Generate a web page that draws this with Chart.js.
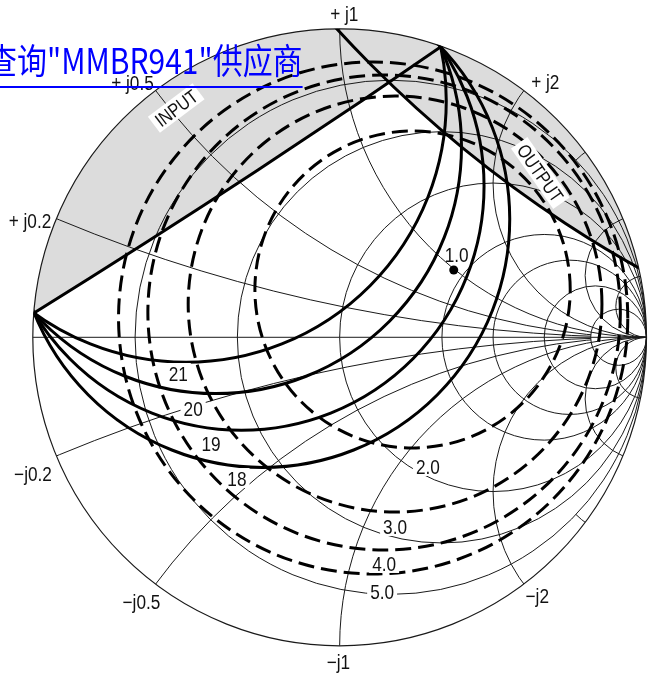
<!DOCTYPE html>
<html>
<head>
<meta charset="utf-8">
<script src="https://cdn.jsdelivr.net/npm/chart.js@4.4.1/dist/chart.umd.min.js"></script>
<style>
  html, body { margin: 0; padding: 0; background: #fff; }
  #wrap { position: relative; width: 651px; height: 679px; overflow: hidden; }
  #smith { position: absolute; left: 0; top: 0; }
  #supplier {
    position: absolute; left: -13px; top: 41px; display: block;
    font-family: "Noto Sans CJK SC", sans-serif; font-size: 35px; line-height: 35px;
    color: #0000ff; text-decoration: underline; text-decoration-thickness: 2px;
    text-underline-offset: 12px; white-space: nowrap; transform-origin: 0 0;
  }
</style>
</head>
<body>
<div id="wrap">
  <canvas id="smith" width="651" height="679"></canvas>
  <a id="supplier" href="#">查询"MMBR941"供应商</a>
</div>
<script>
// ---------- Smith chart grid ----------
const resistanceCircles = [0.2, 0.5, 1, 2, 3, 5, 10];
const reactanceArcs     = [0.2, 0.5, 1, 2, 3, 5, 10];
// resistance value at which each reactance arc stops (Infinity = runs to the right edge)
const reactanceArcLimit = [10, 10, Infinity, Infinity, 0.2, Infinity, Infinity];
const rimLabelText = ['+ j0.2', '+ j0.5', '+ j1', '+ j2', '\u2212j0.2', '\u2212j0.5', '\u2212j1', '\u2212j2'];

// ---------- constant gain circles (dB), reflection-coefficient plane ----------
const gainDb      = [21, 20, 19, 18];
const gainCenterU = [-0.5005, -0.4042, -0.3203, -0.2506];
const gainCenterV = [0.7669, 0.6188, 0.4898, 0.3831];
const gainRadius  = [0.8480, 0.8013, 0.7909, 0.8049];

// ---------- noise figure circles (dB) ----------
const nfDb      = [2.0, 3.0, 4.0, 5.0];
const nfCenterU = [0.2376, 0.1806, 0.1449, 0.1092];
const nfCenterV = [0.1549, 0.1079, 0.0804, 0.0626];
const nfRadius  = [0.5138, 0.6742, 0.7699, 0.8298];

// ---------- minimum noise figure (dB) at the optimum source reflection ----------
const nfMin = 1.0;
const gammaOptU = 0.3718;
const gammaOptV = 0.2182;

// ---------- stability circles ----------
const stabilityName    = ['INPUT', 'OUTPUT'];
const stabilityCenterU = [-17.850, 2.8998];
const stabilityCenterV = [27.443, 3.6810];
const stabilityRadius  = [32.138, 3.9562];

// ---------- label placement (reflection-coefficient plane) ----------
const layout = {
  rimLabelPos: [[-1.0091, 0.3770], [-0.6752, 0.8243], [0.0152, 1.0480], [0.6700, 0.8276],
                [-0.9994, -0.4431], [-0.6460, -0.8580], [-0.0042, -1.0525], [0.6441, -0.8386]],
  gainLabelPos: [[-0.5261, -0.1157], [-0.4775, -0.2292], [-0.4191, -0.3426], [-0.3348, -0.4561]],
  nfLabelPos: [[0.2875, -0.4172], [0.1805, -0.6117], [0.1449, -0.7316], [0.1384, -0.8224]],
  nfMinLabelPos: [0.3815, 0.2700],
  stabilityLabelPos: [[-0.5326, 0.7433], [0.6538, 0.5326]],
  stabilityLabelAngle: [-37, 55]
};

const LABEL_FONT = '"Liberation Sans", Arial, sans-serif';

function frameOf(chart) {
  const xs = chart.scales.x, ys = chart.scales.y;
  const cx = xs.getPixelForValue(0), cy = ys.getPixelForValue(0);
  return { cx, cy, kx: xs.getPixelForValue(1) - cx, ky: cy - ys.getPixelForValue(1) };
}

function drawLabel(ctx, text, x, y, size, opt) {
  opt = opt || {};
  const squeeze = opt.squeeze || 0.82;
  ctx.save();
  ctx.translate(x, y);
  if (opt.angle) ctx.rotate(opt.angle * Math.PI / 180);
  ctx.scale(squeeze, 1);
  ctx.font = size + 'px ' + LABEL_FONT;
  const w = ctx.measureText(text).width;
  if (opt.bg) {
    const padX = opt.padX || 3, h = opt.boxH || size * 0.95;
    ctx.fillStyle = '#fff';
    ctx.fillRect(-w / 2 - padX / squeeze, -h / 2, w + 2 * padX / squeeze, h);
  }
  ctx.fillStyle = '#111';
  ctx.textAlign = 'center';
  ctx.textBaseline = 'alphabetic';
  ctx.fillText(text, 0, size * 0.358);
  ctx.restore();
}

const smithPlugin = {
  id: 'smithChart',
  beforeDatasetsDraw(chart) {
    const ctx = chart.ctx;
    const f = frameOf(chart);
    const P = (u, v) => [f.cx + f.kx * u, f.cy - f.ky * v];
    const addCircle = (u, v, r) => {
      ctx.save();
      ctx.translate(f.cx, f.cy);
      ctx.scale(f.kx, -f.ky);
      ctx.moveTo(u + r, v);
      ctx.arc(u, v, r, 0, 2 * Math.PI);
      ctx.restore();
    };
    const clipUnit = () => { ctx.beginPath(); addCircle(0, 0, 1); ctx.clip(); };

    // unstable regions
    ctx.save();
    clipUnit();
    ctx.fillStyle = '#dcdcdc';
    for (let i = 0; i < stabilityName.length; i++) {
      ctx.beginPath();
      addCircle(stabilityCenterU[i], stabilityCenterV[i], stabilityRadius[i]);
      ctx.fill();
    }
    ctx.restore();

    // grid
    ctx.save();
    clipUnit();
    ctx.strokeStyle = '#1a1a1a';
    ctx.lineWidth = 1;
    ctx.beginPath();
    ctx.moveTo(...P(-1, 0));
    ctx.lineTo(...P(1, 0));
    ctx.stroke();
    resistanceCircles.forEach(r => {
      ctx.beginPath();
      addCircle(r / (r + 1), 0, 1 / (r + 1));
      ctx.stroke();
    });
    reactanceArcs.forEach((x, i) => {
      const lim = reactanceArcLimit[i];
      [x, -x].forEach(xx => {
        ctx.save();
        if (isFinite(lim)) {
          ctx.beginPath();
          addCircle(0, 0, 1);
          addCircle(lim / (lim + 1), 0, 1 / (lim + 1));
          ctx.clip('evenodd');
        }
        ctx.beginPath();
        addCircle(1, 1 / xx, 1 / Math.abs(xx));
        ctx.stroke();
        ctx.restore();
      });
    });
    ctx.restore();

    // outer rim
    ctx.save();
    ctx.strokeStyle = '#1a1a1a';
    ctx.lineWidth = 1.2;
    ctx.beginPath();
    addCircle(0, 0, 1);
    ctx.stroke();
    ctx.restore();

    // noise figure circles
    ctx.save();
    ctx.strokeStyle = '#000';
    ctx.lineWidth = 3;
    ctx.setLineDash([16, 7]);
    for (let i = 0; i < nfDb.length; i++) {
      ctx.beginPath();
      addCircle(nfCenterU[i], nfCenterV[i], nfRadius[i]);
      ctx.stroke();
    }
    ctx.restore();

    // gain circles and stability boundaries
    ctx.save();
    clipUnit();
    ctx.strokeStyle = '#000';
    ctx.lineWidth = 3;
    for (let i = 0; i < gainDb.length; i++) {
      ctx.beginPath();
      addCircle(gainCenterU[i], gainCenterV[i], gainRadius[i]);
      ctx.stroke();
    }
    for (let i = 0; i < stabilityName.length; i++) {
      ctx.beginPath();
      addCircle(stabilityCenterU[i], stabilityCenterV[i], stabilityRadius[i]);
      ctx.stroke();
    }
    ctx.restore();

    // labels
    rimLabelText.forEach((t, i) => {
      const [x, y] = P(...layout.rimLabelPos[i]);
      drawLabel(ctx, t, x, y, 20, { squeeze: 0.86 });
    });
    gainDb.forEach((g, i) => {
      const [x, y] = P(...layout.gainLabelPos[i]);
      drawLabel(ctx, String(g), x, y, 21, { bg: true });
    });
    nfDb.forEach((n, i) => {
      const [x, y] = P(...layout.nfLabelPos[i]);
      drawLabel(ctx, n.toFixed(1), x, y, 21, { bg: true });
    });
    {
      const [x, y] = P(...layout.nfMinLabelPos);
      drawLabel(ctx, nfMin.toFixed(1), x, y, 21);
    }
    stabilityName.forEach((s, i) => {
      const [x, y] = P(...layout.stabilityLabelPos[i]);
      drawLabel(ctx, s, x, y, 19, { bg: true, angle: layout.stabilityLabelAngle[i], padX: 4, boxH: 20, squeeze: 0.84 });
    });
  }
};

new Chart(document.getElementById('smith'), {
  type: 'scatter',
  data: {
    datasets: [{
      label: 'NFmin',
      data: [{ x: gammaOptU, y: gammaOptV }],
      pointRadius: 4.5,
      backgroundColor: '#000',
      borderColor: '#000',
      borderWidth: 0,
      clip: false
    }]
  },
  options: {
    responsive: false,
    animation: false,
    events: [],
    layout: { padding: { left: 32.8, right: 1.2, top: 28.8, bottom: 33.2 } },
    plugins: { legend: { display: false }, tooltip: { enabled: false } },
    scales: {
      x: { type: 'linear', min: -1, max: 1, display: false },
      y: { type: 'linear', min: -1, max: 1, display: false }
    }
  },
  plugins: [smithPlugin]
});

// fit the supplier link to its line length
const link = document.getElementById('supplier');
link.style.transform = 'scaleX(' + (316 / link.offsetWidth) + ')';
</script>
</body>
</html>
